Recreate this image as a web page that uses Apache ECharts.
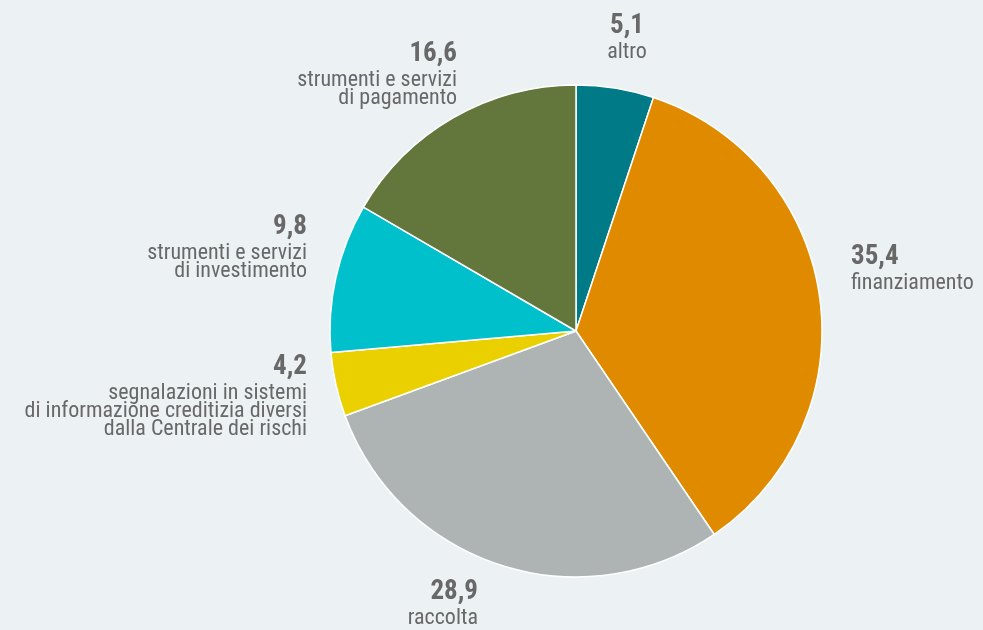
<!DOCTYPE html>
<html>
<head>
<meta charset="utf-8">
<script src="https://cdn.jsdelivr.net/npm/echarts@6/dist/echarts.min.js"></script>
<style>
  html, body { margin: 0; padding: 0; background: #ecf1f4; }
  #chart { width: 983px; height: 630px; }
</style>
</head>
<body>
<div id="chart"></div>
<script>
// Composition of complaints by subject (percent)
const categories = [
  'altro',
  'finanziamento',
  'raccolta',
  'segnalazioni in sistemi\ndi informazione creditizia diversi\ndalla Centrale dei rischi',
  'strumenti e servizi\ndi investimento',
  'strumenti e servizi\ndi pagamento'
];
const values = [5.1, 35.4, 28.9, 4.2, 9.8, 16.6];
const colors = ['#007a86', '#e08a00', '#aeb4b3', '#ebd000', '#00c0cb', '#63763b'];

// Label anchor points and alignment, per slice
const labelPlacement = [
  { x: 627, y: 9,   align: 'center' },
  { x: 851, y: 240, align: 'left' },
  { x: 478, y: 575, align: 'right' },
  { x: 307, y: 350, align: 'right' },
  { x: 307, y: 210, align: 'right' },
  { x: 457, y: 37,  align: 'right' }
];

const fontFamily = "'Roboto Condensed', 'Liberation Sans Narrow', 'DejaVu Sans Condensed', Roboto, sans-serif";
const textColor = '#686868';

const chart = echarts.init(document.getElementById('chart'), null, { renderer: 'canvas' });

chart.setOption({
  backgroundColor: '#ecf1f4',
  animation: false,
  series: [{
    type: 'pie',
    center: [576, 331],
    radius: [0, 246],
    startAngle: 90,
    clockwise: true,
    avoidLabelOverlap: false,
    itemStyle: { borderColor: '#ffffff', borderWidth: 1.5 },
    labelLine: { show: false },
    label: {
      show: true,
      position: 'outside',
      fontFamily: fontFamily,
      formatter: function (p) {
        return '{v|' + p.value.toFixed(1).replace('.', ',') + '}\n{n|' +
          p.name.split('\n').join('}\n{n|') + '}';
      },
      rich: {
        v: { fontSize: 27, fontWeight: 'bold', color: textColor, lineHeight: 34, fontFamily: fontFamily },
        n: { fontSize: 22, color: textColor, lineHeight: 18, fontFamily: fontFamily }
      }
    },
    labelLayout: function (params) {
      const pl = labelPlacement[params.dataIndex];
      return { x: pl.x, y: pl.y, align: pl.align, verticalAlign: 'top' };
    },
    data: categories.map((name, i) => ({
      name: name,
      value: values[i],
      itemStyle: { color: colors[i] },
      label: { align: labelPlacement[i].align }
    }))
  }]
});
</script>
</body>
</html>
